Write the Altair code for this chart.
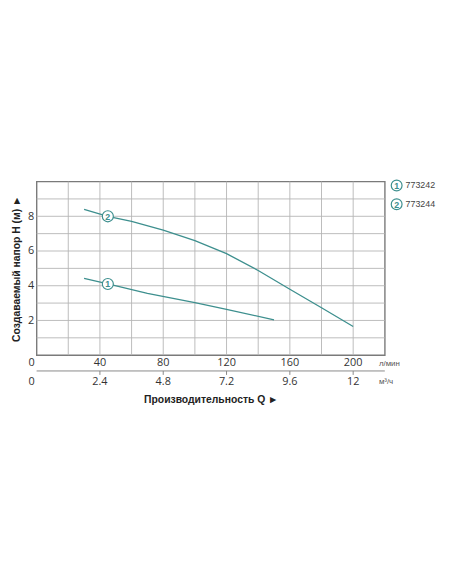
import pandas as pd
import altair as alt

# Pump curves: flow Q (l/min) vs head H (m)
q_pump1 = [30, 45, 70, 100, 120, 150]
h_pump1 = [4.42, 4.1, 3.56, 3.02, 2.64, 2.03]

q_pump2 = [30, 45, 60, 80, 100, 120, 140, 160, 180, 200]
h_pump2 = [8.4, 8.0, 7.7, 7.2, 6.6, 5.85, 4.88, 3.8, 2.73, 1.65]

# curve markers ("1", "2") placed on the lines
marker_q = [45, 45]
marker_h = [4.1, 8.0]
marker_txt = ["1", "2"]

# legend entries
legend_num = ["1", "2"]
legend_code = ["773242", "773244"]

# bottom scales: l/min and m3/h
ticks_lpm = [40, 80, 120, 160, 200]
ticks_lpm_txt = ["40", "80", "120", "160", "200"]
ticks_m3h_txt = ["2.4", "4.8", "7.2", "9.6", "12"]

# grid positions
grid_q = [20, 40, 60, 80, 100, 120, 140, 160, 180, 200]
grid_h = [1, 2, 3, 4, 5, 6, 7, 8, 9]
ylabel_h = [2, 4, 6, 8]

TEAL = "#3d8f8e"
GRID = "#b4b4b4"
W, H = 353, 176

curves = pd.DataFrame({
    "Q": q_pump1 + q_pump2,
    "H": h_pump1 + h_pump2,
    "pump": ["1"] * len(q_pump1) + ["2"] * len(q_pump2),
})
markers = pd.DataFrame({"Q": marker_q, "H": marker_h, "t": marker_txt})
ticks = pd.DataFrame({"Q": ticks_lpm, "lpm": ticks_lpm_txt, "m3h": ticks_m3h_txt})
legend = pd.DataFrame({"n": legend_num, "code": legend_code})
one = pd.DataFrame({"a": [0]})

xscale = alt.Scale(domain=[0, 220], nice=False, zero=True)
yscale = alt.Scale(domain=[0, 10], nice=False)

vgrid = alt.Chart(pd.DataFrame({"Q": grid_q})).mark_rule(color=GRID, strokeWidth=0.9).encode(
    x=alt.X("Q:Q", scale=xscale,
            axis=alt.Axis(labels=False, ticks=False, domain=False, grid=False,
                          title="Производительность Q ►", titleFont="Liberation Sans",
                          titleFontSize=10.5, titleFontWeight="bold", titleColor="#222",
                          titlePadding=40)),
    y=alt.value(0), y2=alt.value(H))
hgrid = alt.Chart(pd.DataFrame({"H": grid_h})).mark_rule(color=GRID, strokeWidth=0.9).encode(
    y=alt.Y("H:Q", scale=yscale,
            axis=alt.Axis(values=ylabel_h, ticks=False, domain=False, grid=False,
                          labelOverlap=False, labelFont="Open Sans", labelFontSize=11,
                          labelColor="#333", labelPadding=3,
                          title="Создаваемый напор H (м) ►", titleFont="Liberation Sans",
                          titleFontSize=10.5, titleFontWeight="bold", titleColor="#222",
                          titlePadding=6)),
    x=alt.value(0), x2=alt.value(W))

lines = alt.Chart(curves).mark_line(color=TEAL, strokeWidth=1.3).encode(
    x=alt.X("Q:Q", scale=xscale), y=alt.Y("H:Q", scale=yscale), detail="pump:N")

circles = alt.Chart(markers).mark_point(
    shape="circle", size=125, filled=True, fill="white", stroke=TEAL, strokeWidth=1.2, opacity=1
).encode(x=alt.X("Q:Q", scale=xscale), y=alt.Y("H:Q", scale=yscale))

circle_txt = alt.Chart(markers).mark_text(
    color=TEAL, fontSize=9, font="Liberation Sans", fontWeight="bold", dy=0.5
).encode(x=alt.X("Q:Q", scale=xscale), y=alt.Y("H:Q", scale=yscale), text="t:N")

lab_style = dict(font="Open Sans", fontSize=11, color="#333", baseline="middle")

row1 = alt.Chart(ticks).mark_text(**lab_style).encode(
    x=alt.X("Q:Q", scale=xscale), y=alt.value(H + 8), text="lpm:N")
row2 = alt.Chart(ticks).mark_text(**lab_style).encode(
    x=alt.X("Q:Q", scale=xscale), y=alt.value(H + 27), text="m3h:N")
zero1 = alt.Chart(one).mark_text(dx=-5, text="0", **lab_style).encode(
    x=alt.value(0), y=alt.value(H + 8))
zero2 = alt.Chart(one).mark_text(dx=-5, text="0", **lab_style).encode(
    x=alt.value(0), y=alt.value(H + 27))

# second axis line with ticks (m3/h)
axis2 = alt.Chart(one).mark_rule(color="#888", strokeWidth=1).encode(
    x=alt.value(0), x2=alt.value(W), y=alt.value(H + 16))
axis2_ticks = alt.Chart(ticks).mark_rule(color="#888", strokeWidth=1).encode(
    x=alt.X("Q:Q", scale=xscale), y=alt.value(H + 16), y2=alt.value(H + 20))

unit_style = dict(font="Liberation Sans", fontSize=8, color="#555", align="left", baseline="middle")
unit1 = alt.Chart(one).mark_text(text="л/мин", **unit_style).encode(
    x=alt.value(W - 6), y=alt.value(H + 9))
unit2 = alt.Chart(one).mark_text(text="м³/ч", **unit_style).encode(
    x=alt.value(W - 6), y=alt.value(H + 27))

# legend on the right
legend_layers = []
for i, code in enumerate(legend_code):
    src = alt.Chart(legend).transform_filter(alt.datum.code == code)
    yy = 4 + 19 * i
    legend_layers += [
        src.mark_point(shape="circle", size=120, filled=True, fill="white", stroke=TEAL,
                       strokeWidth=1.2, opacity=1).encode(x=alt.value(W + 12), y=alt.value(yy)),
        src.mark_text(color=TEAL, fontSize=9, font="Liberation Sans", fontWeight="bold",
                      dy=0.5).encode(x=alt.value(W + 12), y=alt.value(yy), text="n:N"),
        src.mark_text(color="#444", fontSize=9, font="Liberation Sans", align="left",
                      baseline="middle").encode(x=alt.value(W + 21), y=alt.value(yy), text="code:N"),
    ]

chart = alt.layer(
    vgrid, hgrid, lines, circles, circle_txt, row1, row2, zero1, zero2, axis2, axis2_ticks,
    unit1, unit2, *legend_layers
).properties(
    width=W, height=H,
    autosize=alt.AutoSizeParams(type="none"),
    padding={"left": 29, "top": 173, "right": 60, "bottom": 80},
).configure_view(stroke="#7a7a7a", strokeWidth=1.4)

chart.save("out.html", embed_options={"renderer": "svg", "actions": False})
